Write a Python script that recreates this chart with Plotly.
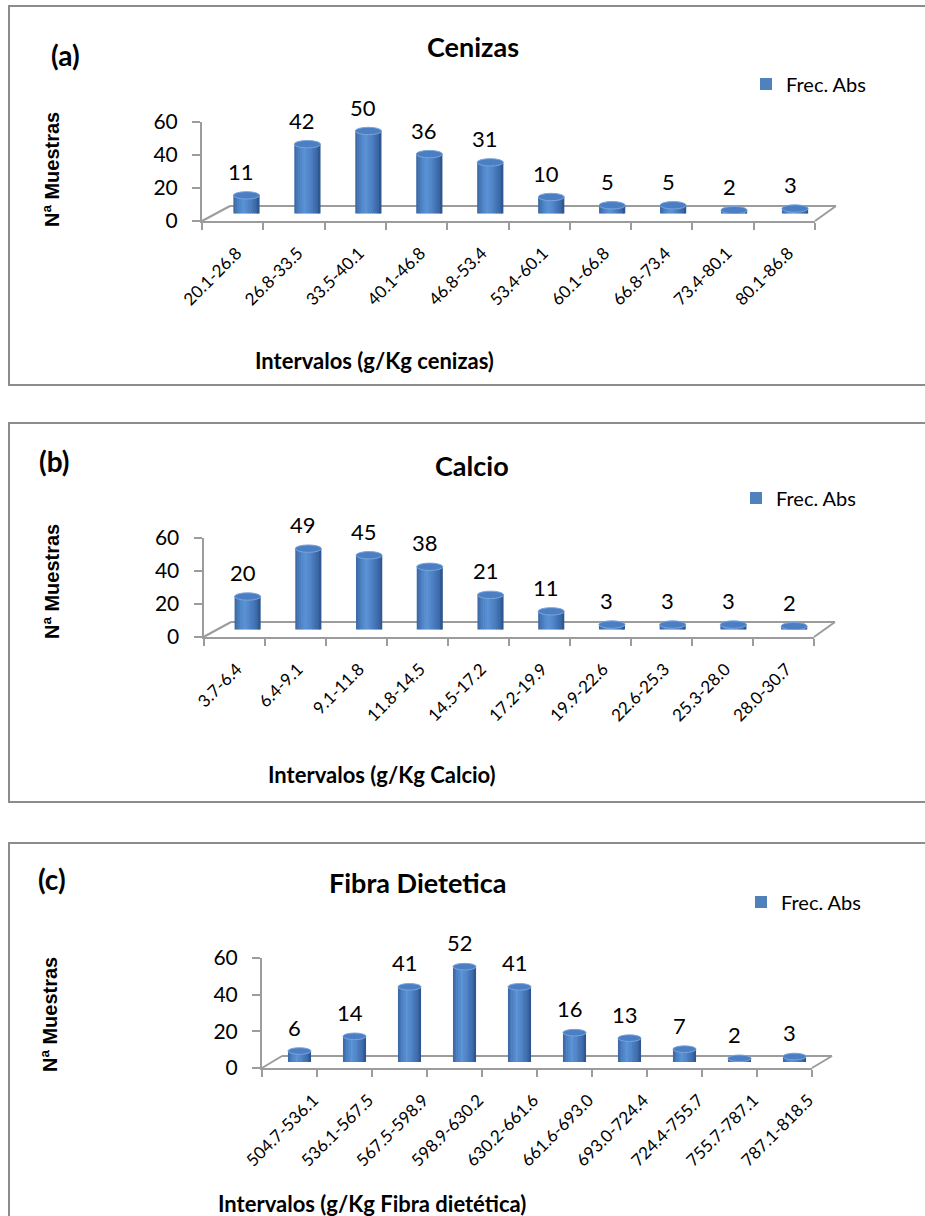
import numpy as np
import plotly.graph_objects as go

# ---------------- data ----------------
cat_a = ["20.1-26.8", "26.8-33.5", "33.5-40.1", "40.1-46.8", "46.8-53.4",
         "53.4-60.1", "60.1-66.8", "66.8-73.4", "73.4-80.1", "80.1-86.8"]
val_a = [11, 42, 50, 36, 31, 10, 5, 5, 2, 3]

cat_b = ["3.7-6.4", "6.4-9.1", "9.1-11.8", "11.8-14.5", "14.5-17.2",
         "17.2-19.9", "19.9-22.6", "22.6-25.3", "25.3-28.0", "28.0-30.7"]
val_b = [20, 49, 45, 38, 21, 11, 3, 3, 3, 2]

cat_c = ["504.7-536.1", "536.1-567.5", "567.5-598.9", "598.9-630.2", "630.2-661.6",
         "661.6-693.0", "693.0-724.4", "724.4-755.7", "755.7-787.1", "787.1-818.5"]
val_c = [6, 14, 41, 52, 41, 16, 13, 7, 2, 3]

titles = ["Cenizas", "Calcio", "Fibra Dietetica"]
tags = ["(a)", "(b)", "(c)"]
x_titles = ["Intervalos (g/Kg cenizas)", "Intervalos (g/Kg Calcio)",
            "Intervalos (g/Kg Fibra dietética)"]
y_title = "Nª Muestras"
series_name = "Frec. Abs"
y_ticks = [0, 20, 40, 60]
y_max = 60

cats = [cat_a, cat_b, cat_c]
vals = [val_a, val_b, val_c]

# ---------------- layout geometry (pixels) ----------------
W, H = 925, 1216
def X(px): return px / W
def Y(py): return 1 - py / H

geom = [
    dict(box=(9, 6, 940, 385), tag=(65, 55), title=(473, 47), leg=(746, 84),
         ytit=(52, 170), xtit=(374, 360), front=(202, 815), back=(230, 836),
         y0=221, y60=122, depth=15, lab_dx=4, barw=0.43, ell=3.7),
    dict(box=(9, 423, 940, 802), tag=(54, 461), title=(472, 465), leg=(736, 498),
         ytit=(52, 582), xtit=(382, 774), front=(203.5, 814), back=(231, 835),
         y0=637, y60=538, depth=15, lab_dx=3, barw=0.43, ell=3.7),
    dict(box=(9, 843, 940, 1230), tag=(52, 879), title=(417, 882), leg=(741, 902),
         ytit=(50, 1015), xtit=(372, 1203), front=(262, 812), back=(282, 832),
         y0=1068, y60=958, depth=12, lab_dx=24, barw=0.42, ell=3.3),
]

AX_COL = "#9c9c9c"
BOX_COL = "#8c8c8c"
FONT = "Lato"

# cylinder shading stops (position across bar -1..1, colour)
stops = [(-1.0, (0x3b, 0x66, 0xa2)), (-0.55, (0x4f, 0x86, 0xc8)),
         (-0.2, (0x5c, 0x93, 0xd6)), (0.3, (0x4a, 0x7d, 0xc0)),
         (0.75, (0x3a, 0x67, 0xa5)), (1.0, (0x2b, 0x51, 0x87))]
def shade(u):
    for (u0, c0), (u1, c1) in zip(stops[:-1], stops[1:]):
        if u0 <= u <= u1:
            t = (u - u0) / (u1 - u0)
            c = [round(a + (b - a) * t) for a, b in zip(c0, c1)]
            return "rgb(%d,%d,%d)" % tuple(c)
    return "rgb(79,129,189)"

N_SLICE = 14

fig = go.Figure()
layout = dict(width=W, height=H,
              margin=dict(l=0, r=0, t=0, b=0, pad=0, autoexpand=False),
              paper_bgcolor="white", plot_bgcolor="rgba(0,0,0,0)",
              barmode="overlay", font=dict(family=FONT, color="black"),
              template="none")
shapes = []
annotations = []

def aname(kind, i):
    return f"{kind}axis" if i == 1 else f"{kind}axis{i}"
def aref(kind, i):
    return kind if i == 1 else f"{kind}{i}"

for p in range(3):
    g = geom[p]
    cat, val = cats[p], vals[p]
    n = len(cat)
    xf, xl, xb = 3 * p + 1, 3 * p + 2, 3 * p + 3
    yf, yb = 2 * p + 1, 2 * p + 2
    f0, f1 = g["front"]
    b0, b1 = g["back"]
    m0, m1 = (f0 + b0) / 2, (f1 + b1) / 2
    y0, y60, dz = g["y0"], g["y60"], g["depth"]
    boundaries = [i - 0.5 for i in range(n + 1)]

    # front axes (visible axis lines / ticks)
    layout[aname("x", xf)] = dict(domain=[X(f0), X(f1)], anchor=aref("y", yf),
        range=[-0.5, n - 0.5], showline=True, linecolor=AX_COL, linewidth=2,
        ticks="outside", ticklen=7, tickwidth=2, tickcolor=AX_COL,
        tickmode="array", tickvals=boundaries, showticklabels=False,
        showgrid=False, zeroline=False, fixedrange=True, automargin=False)
    layout[aname("y", yf)] = dict(domain=[Y(y0), Y(y60)], anchor=aref("x", xf),
        range=[0, y_max], showline=True, linecolor=AX_COL, linewidth=2,
        ticks="outside", ticklen=8, tickwidth=2, tickcolor=AX_COL,
        tickmode="array", tickvals=y_ticks, tickfont=dict(family=FONT, size=21),
        ticklabelstandoff=10, showgrid=False, zeroline=False, fixedrange=True,
        automargin=False)
    # category label axis
    layout[aname("x", xl)] = dict(domain=[X(f0 + g["lab_dx"]), X(f1 + g["lab_dx"])],
        anchor=aref("y", yf), range=[-0.5, n - 0.5], showline=False, ticks="",
        tickmode="array", tickvals=list(range(n)), ticktext=cat, tickangle=-45,
        tickfont=dict(family=FONT, size=17), ticklabelstandoff=18,
        showgrid=False, zeroline=False, fixedrange=True, automargin=False)
    # bar plane (mid depth)
    layout[aname("x", xb)] = dict(domain=[X(m0), X(m1)], anchor=aref("y", yb),
        type="category", categoryorder="array", categoryarray=cat,
        range=[-0.5, n - 0.5], visible=False, fixedrange=True, automargin=False)
    layout[aname("y", yb)] = dict(domain=[Y(y0 - dz / 2), Y(y60 - dz / 2)],
        anchor=aref("x", xb), range=[0, y_max], visible=False, fixedrange=True,
        automargin=False)

    fig.add_trace(go.Scatter(x=[], y=[], xaxis=aref("x", xf), yaxis=aref("y", yf),
                             showlegend=False, hoverinfo="skip"))
    fig.add_trace(go.Scatter(x=[], y=[], xaxis=aref("x", xl), yaxis=aref("y", yf),
                             showlegend=False, hoverinfo="skip"))

    # cylinders: vertical slices with shading
    w = g["barw"]
    e = g["ell"] * y_max / (y0 - y60)
    legname = "legend" if p == 0 else f"legend{p + 1}"
    for s in range(N_SLICE):
        u = -1 + (2 * s + 1) / N_SLICE
        sag = e * np.sqrt(max(0.0, 1 - u * u))
        base = [-sag] * n
        heights = [v + sag for v in val]
        sw = w / N_SLICE
        fig.add_trace(go.Bar(
            x=cat, y=heights, base=base, offset=-w / 2 + s * sw,
            width=sw * (1.35 if s < N_SLICE - 1 else 1.0),
            marker=dict(color=shade(u), line=dict(width=0)),
            xaxis=aref("x", xb), yaxis=aref("y", yb),
            name=series_name, showlegend=False, hoverinfo="skip"))
    # legend entry
    fig.add_trace(go.Bar(x=[cat[0]], y=[0], base=[0], width=0.0001,
        marker=dict(color="#4F81BD", line=dict(width=0)),
        xaxis=aref("x", xb), yaxis=aref("y", yb), name=series_name,
        showlegend=True, legend=legname, hoverinfo="skip"))
    layout[legname] = dict(x=X(g["leg"][0]), y=Y(g["leg"][1]), xanchor="left",
        yanchor="middle", bgcolor="rgba(0,0,0,0)", borderwidth=0,
        font=dict(family=FONT, size=20, color="black"))

    # top ellipses of cylinders
    for i, v in enumerate(val):
        shapes.append(dict(type="circle", xref=aref("x", xb), yref=aref("y", yb),
            x0=i - w / 2, x1=i + w / 2, y0=v - e, y1=v + e,
            fillcolor="#4b7ec2", line=dict(color="#79a4dc", width=1), layer="above"))
        annotations.append(dict(x=cat[i], y=v, xref=aref("x", xb), yref=aref("y", yb),
            text=str(v), showarrow=False, yshift=24, xshift=-5,
            font=dict(family=FONT, size=22, color="black")))

    # floor outline
    for (xa, ya, xb_, yb_) in [(b0, y0 - dz, b1, y0 - dz), (f0, y0, b0, y0 - dz),
                               (f1, y0, b1, y0 - dz)]:
        shapes.append(dict(type="line", xref="paper", yref="paper",
            x0=X(xa), y0=Y(ya), x1=X(xb_), y1=Y(yb_),
            line=dict(color=AX_COL, width=2), layer="below"))

    # panel border
    bx0, by0, bx1, by1 = g["box"]
    shapes.append(dict(type="rect", xref="paper", yref="paper",
        x0=X(bx0), y0=Y(by1), x1=X(bx1), y1=Y(by0),
        line=dict(color=BOX_COL, width=2), fillcolor="rgba(0,0,0,0)", layer="below"))

    # texts
    annotations.append(dict(x=X(g["tag"][0]), y=Y(g["tag"][1]), xref="paper", yref="paper",
        text="<b>%s</b>" % tags[p], showarrow=False, xanchor="center", yanchor="middle",
        font=dict(family=FONT, size=28, color="black")))
    annotations.append(dict(x=X(g["title"][0]), y=Y(g["title"][1]), xref="paper", yref="paper",
        text="<b>%s</b>" % titles[p], showarrow=False, xanchor="center", yanchor="middle",
        font=dict(family=FONT, size=27, color="black")))
    annotations.append(dict(x=X(g["xtit"][0]), y=Y(g["xtit"][1]), xref="paper", yref="paper",
        text="<b>%s</b>" % x_titles[p], showarrow=False, xanchor="center", yanchor="middle",
        font=dict(family=FONT, size=22, color="black")))
    annotations.append(dict(x=X(g["ytit"][0]), y=Y(g["ytit"][1]), xref="paper", yref="paper",
        text="<b>%s</b>" % y_title, showarrow=False, xanchor="center", yanchor="middle",
        textangle=-90, font=dict(family="Liberation Sans", size=20, color="black")))

layout["shapes"] = shapes
layout["annotations"] = annotations
fig.update_layout(**layout)
fig.write_html("out.html")
